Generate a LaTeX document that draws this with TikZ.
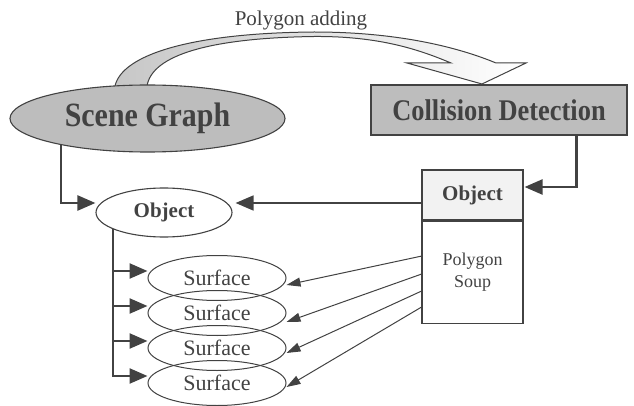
\documentclass[tikz,border=0pt]{standalone}
\usepackage{fontspec}
\setmainfont{Liberation Serif}
\newfontfamily\narrowserif[FakeStretch=0.88]{Liberation Serif}
\usetikzlibrary{shapes.geometric,arrows.meta}

\colorlet{diagramInk}{black!74}
\colorlet{diagramFill}{black!26}
\colorlet{headerFill}{black!5}

\begin{document}
\begin{tikzpicture}[x=1pt,y=-1pt,
	conn/.style={draw=diagramInk,line width=2.4pt,-{Triangle[length=18pt,width=15pt]}},
	thin conn/.style={draw=diagramInk,line width=1pt,-{Triangle[length=14pt,width=9pt]}},
	scene/.style={ellipse,draw=diagramInk,line width=1.1pt,fill=diagramFill,minimum width=275pt,minimum height=67pt,inner sep=0pt,text=diagramInk,font=\narrowserif\bfseries\fontsize{34}{34}\selectfont},
	cdbox/.style={rectangle,draw=diagramInk,line width=1.1pt,fill=diagramFill,minimum width=256pt,minimum height=50pt,inner sep=0pt,text=diagramInk,font=\narrowserif\bfseries\fontsize{30}{30}\selectfont},
	obj/.style={ellipse,draw=diagramInk,line width=1.1pt,fill=white,minimum width=136pt,minimum height=49pt,inner sep=0pt,text=diagramInk,font=\bfseries\fontsize{21}{21}\selectfont},
	header/.style={rectangle,draw=diagramInk,line width=1.1pt,fill=headerFill,minimum width=101pt,minimum height=50pt,inner sep=0pt,text=diagramInk,font=\bfseries\fontsize{21}{21}\selectfont},
	soupbox/.style={rectangle,draw=diagramInk,line width=1.1pt,minimum width=101pt,minimum height=102pt,inner sep=0pt,align=center,text=diagramInk,font=\fontsize{18}{22}\selectfont},
	surf/.style={ellipse,draw=diagramInk,line width=1pt,minimum width=138pt,minimum height=45pt,inner sep=0pt,text=diagramInk,font=\fontsize{22}{22}\selectfont},
	band/.style={draw=diagramInk,line width=1pt,left color=diagramFill!85,right color=white}]
\useasboundingbox (0,0) rectangle (634,406);

% polygon adding arrow
\node[text=diagramInk,font=\fontsize{21}{21}\selectfont] (adding) at (301,20) {Polygon adding};
\draw[band] (115,95) -- (115,86) .. controls (122,55) and (190,33) .. (314,32)
	.. controls (400,32) and (460,48) .. (496,63) -- (526,63) -- (482,84) -- (407,63) -- (451,63)
	.. controls (420,50) and (380,36) .. (314,36.5) .. controls (210,38) and (152,55) .. (147,86) -- (147,95) -- cycle;

\node[scene] (scene) at (147.5,118.5) {Scene Graph};
\node[cdbox] (cd) at (499,110) {Collision Detection};

\node[obj] (objL) at (164,212.5) {Object};
\node[header] (objR) at (472.5,195) {Object};
\node[soupbox,anchor=north] (soup) at (objR.south) {Polygon\\Soup};

\foreach \i/\y in {1/278,2/313,3/348,4/383}
{%
	\node[surf] (surf \i) at (217,\y) {Surface};
}%

\coordinate (objL in) at ([yshift=9.5pt]objL.west);
\coordinate (objL tip) at ([xshift=3pt,yshift=9.5pt]objL.east);
\coordinate (objR in) at ([xshift=1pt,yshift=8pt]objR.east);

\draw[conn] (scene.197) |- (objL in);
\draw[conn] ([xshift=-51pt]cd.south east) |- (objR in);
\draw[conn,line width=1.6pt] (objR.west |- objL tip) -- (objL tip);
\foreach \i in {1,...,4}
{%
	\draw[conn] (objL.198) |- ([yshift=7pt]surf \i.west);
}%
\foreach \i/\s/\t in {1/16pt/-7pt,2/-2pt/-9pt,3/-19pt/-5pt,4/-35pt/-4pt}
{%
	\draw[thin conn] ([yshift=\s]soup.west) -- ([yshift=\t]surf \i.east);
}%
\end{tikzpicture}
\end{document}
